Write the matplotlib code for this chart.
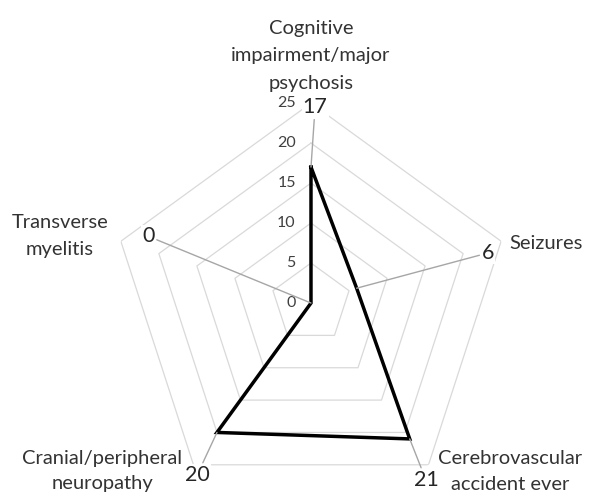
import matplotlib.pyplot as plt
import numpy as np

# Data
categories = ['Cognitive\nimpairment/major\npsychosis', 'Seizures',
              'Cerebrovascular\naccident ever', 'Cranial/peripheral\nneuropathy',
              'Transverse\nmyelitis']
values = [17, 6, 21, 20, 0]
grid_levels = [5, 10, 15, 20, 25]

# label placement (theta in degrees clockwise from north, radius in data units, line spacing)
cat_pos = [(0, 26.4, 'bottom', 1.75), (75.7, 30.3, 'center', 1.75),
           (130.2, 32.6, 'center', 1.6), (231.2, 33.5, 'center', 1.6),
           (285, 32.5, 'center', 1.75)]
val_pos = [(1.2, 24.5), (74.2, 23.0), (147.0, 26.4), (213.5, 25.8), (292.3, 22.0)]

plt.rcParams['font.family'] = ['Lato', 'DejaVu Sans']

fig = plt.figure(figsize=(5.89, 4.98), dpi=100)
ax = fig.add_axes([0.1885, -0.01, 0.679, 0.803], projection='polar')
ax.set_theta_zero_location('N')
ax.set_theta_direction(-1)
ax.set_ylim(0, 25)
ax.grid(False)
ax.spines['polar'].set_visible(False)
ax.set_xticks([])
ax.set_yticks([])
ax.patch.set_alpha(0)

n = len(categories)
angles = np.arange(n) * 2 * np.pi / n
closed = np.append(angles, angles[0])

# pentagon gridlines
for lvl in grid_levels:
    ax.plot(closed, [lvl] * (n + 1), color='#d9d9d9', lw=0.9, zorder=1)

# tick labels along the top axis
for lvl in [0] + grid_levels:
    ax.annotate(str(lvl), xy=(0, lvl), xytext=(-11, 0), textcoords='offset points',
                ha='right', va='center', fontsize=11.5, color='#404040')

# data series
ax.plot(closed, values + [values[0]], color='black', lw=2.5, zorder=3,
        solid_joinstyle='miter')

# data labels with leader lines
for i, (v, (th, r)) in enumerate(zip(values, val_pos)):
    ax.annotate(str(v), xy=(angles[i], v), xytext=(np.radians(th), r),
                ha='center', va='center', fontsize=15.5, color='#262626', zorder=4,
                bbox=dict(boxstyle='square,pad=0.05', fc='white', ec='none'),
                arrowprops=dict(arrowstyle='-', color='#a6a6a6', lw=1,
                                shrinkA=1, shrinkB=0))

# category labels
for lab, (th, r, va, ls) in zip(categories, cat_pos):
    ax.text(np.radians(th), r, lab, ha='center', va=va, fontsize=14.5, color='#333333',
            linespacing=ls, multialignment='center')

fig.savefig('out.png', dpi=100)
